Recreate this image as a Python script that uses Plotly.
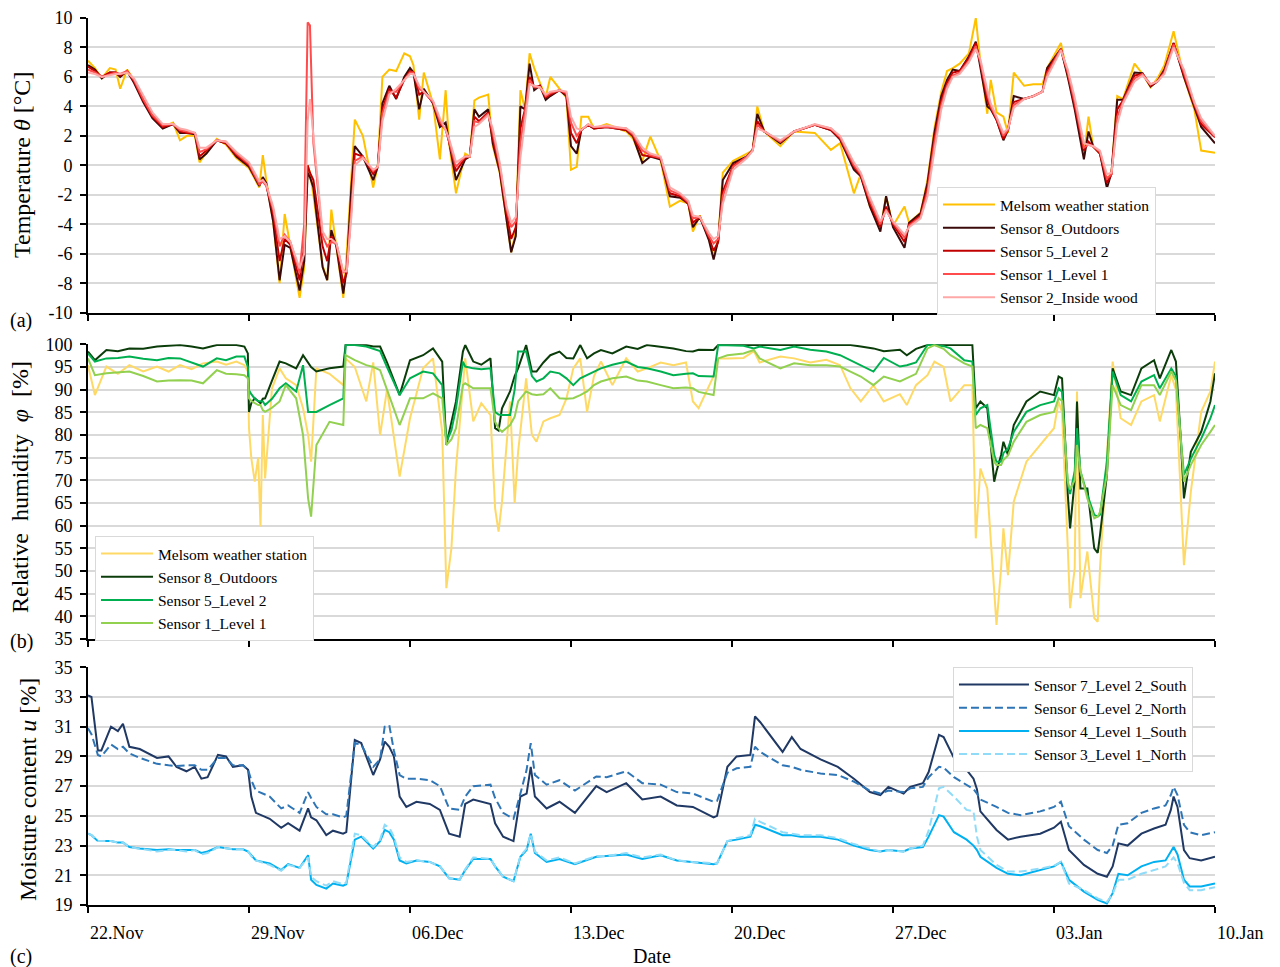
import pandas as pd
import plotly.graph_objects as go

START = pd.Timestamp("2018-11-22")
END = pd.Timestamp("2019-01-10")

# ---------------- (a) Temperature [°C] ----------------
temp_days = [0.0, 0.3, 0.6, 0.95, 1.2, 1.4, 1.7, 2.0, 2.4, 2.8, 3.25, 3.7, 4.0, 4.3, 4.65, 4.85, 5.15, 5.6,
             6.0, 6.45, 7.0, 7.45, 7.6, 7.75, 8.05, 8.33, 8.55, 8.8, 9.2, 9.4, 9.55, 9.65, 9.8, 10.2, 10.4,
             10.58, 10.8, 11.1, 11.25, 11.45, 11.6, 11.95, 12.4, 12.6, 12.8, 13.1, 13.4, 13.75, 14.0, 14.15,
             14.4, 14.6, 15.0, 15.3, 15.55, 15.7, 16.0, 16.4, 16.6, 16.8, 17.0, 17.4, 17.6, 17.9, 18.2, 18.4,
             18.6, 18.8, 19.0, 19.2, 19.4, 19.65, 19.9, 20.1, 20.5, 20.8, 21.0, 21.25, 21.45, 21.75, 22.0,
             22.55, 23.4, 23.7, 24.1, 24.45, 24.9, 25.3, 25.75, 26.1, 26.3, 26.6, 27.0, 27.2, 27.4, 27.6,
             28.05, 28.65, 28.9, 29.1, 29.4, 30.1, 30.7, 31.6, 32.3, 32.7, 33.3, 33.6, 34.0, 34.45, 34.7,
             35.0, 35.5, 35.7, 36.2, 36.5, 36.8, 37.1, 37.35, 37.6, 37.9, 38.3, 38.6, 38.8, 39.1, 39.25,
             39.5, 39.8, 40.0, 40.25, 40.7, 41.1, 41.5, 41.7, 42.3, 42.6, 42.9, 43.3, 43.5, 43.7, 44.0,
             44.3, 44.5, 44.75, 45.0, 45.5, 45.85, 46.2, 46.5, 46.8, 47.2, 47.65, 48.1, 48.4, 49.0]
temp_melsom = [7.1, 6.6, 5.9, 6.6, 6.5, 5.2, 6.5, 5.8, 4.4, 3.3, 2.6, 2.9, 1.7, 2.0, 2.0, 0.2, 0.9, 1.8,
               1.4, 0.5, -0.2, -1.5, 0.7, -1.0, -3.8, -8.0, -3.3, -5.6, -9.0, -7.0, 0.0, -0.5, -2.0, -6.8, -7.8,
               -3.0, -5.5, -9.0, -6.0, -0.7, 3.1, 2.0, -1.5, 0.0, 6.0, 6.5, 6.4, 7.6, 7.4, 6.8,
               3.1, 6.3, 4.2, 0.4, 5.1, 1.5, -1.9, 0.8, 0.6, 4.4, 4.6, 4.8, 1.3, -0.5, -3.6, -5.9,
               -4.5, 5.1, 3.8, 7.6, 6.6, 5.6, 4.6, 6.0, 5.2, 4.6, -0.3, -0.1, 3.3, 3.3, 2.5,
               2.8, 2.3, 1.8, 0.3, 1.95, 0.3, -2.8, -2.4, -2.6, -4.5, -3.4, -5.0, -6.2, -5.0, -0.5,
               0.3, 0.8, 1.0, 4.0, 2.3, 1.3, 2.3, 2.2, 1.05, 1.5, -1.9, -0.6, -2.8, -4.3, -2.1,
               -4.1, -2.8, -3.9, -3.2, -1.0, 2.5, 5.0, 6.4, 6.6, 6.9, 7.6, 10.0, 7.0, 3.5, 5.8,
               3.6, 3.3, 2.2, 6.3, 5.4, 5.5, 5.5, 6.6, 8.3, 6.0, 4.4, 0.6, 3.3, 1.3, 0.8,
               -1.0, -0.5, 4.7, 4.5, 6.9, 6.2, 5.3, 5.9, 6.8, 9.1, 6.0, 3.8, 1.0, 0.85]
temp_s8 = [6.8, 6.5, 5.9, 6.3, 6.3, 6.0, 6.4, 5.6, 4.3, 3.2, 2.5, 2.8, 2.2, 2.2, 2.1, 0.4, 0.8, 1.7,
           1.5, 0.6, -0.1, -1.4, -0.8, -1.2, -3.8, -7.8, -5.4, -5.6, -8.5, -6.5, -0.5, -0.8, -1.5, -6.9, -7.8,
           -4.4, -5.5, -8.7, -7.0, -1.5, 1.3, 0.6, -1.0, -0.1, 4.2, 5.4, 4.5, 6.0, 6.6, 6.3,
           3.8, 5.2, 4.2, 2.6, 2.9, 1.5, -1.0, 0.4, 0.6, 3.8, 3.3, 3.8, 1.5, -0.4, -3.6, -5.9,
           -4.8, 4.0, 3.8, 6.9, 5.1, 5.4, 4.45, 4.7, 5.1, 4.7, 1.3, 0.8, 2.4, 2.75, 2.5,
           2.6, 2.4, 1.95, 0.15, 0.6, 0.4, -2.1, -2.2, -2.6, -4.2, -3.5, -5.1, -6.4, -5.1, -1.0,
           0.15, 0.6, 1.05, 3.5, 2.3, 1.5, 2.3, 2.75, 2.4, 1.75, -0.3, -0.75, -2.8, -4.5, -2.1,
           -4.2, -5.6, -3.9, -3.25, -1.2, 2.2, 4.7, 5.8, 6.5, 6.4, 7.4, 8.4, 6.7, 4.0, 3.8,
           3.1, 1.7, 2.4, 4.7, 4.5, 4.7, 5.0, 6.6, 7.9, 6.0, 3.8, 0.4, 2.3, 1.3, 0.8,
           -1.55, -0.5, 4.45, 4.45, 6.3, 6.25, 5.35, 5.7, 6.5, 8.3, 6.0, 4.0, 2.6, 1.5]
temp_s5 = [6.7, 6.4, 6.0, 6.3, 6.3, 6.1, 6.4, 5.7, 4.4, 3.3, 2.6, 2.8, 2.3, 2.2, 2.2, 0.6, 1.0, 1.7,
           1.5, 0.7, 0.0, -1.3, -1.0, -1.3, -3.3, -6.5, -5.0, -5.4, -7.8, -5.5, 0.0, -0.5, -1.0, -5.5, -6.5,
           -4.8, -5.4, -8.0, -7.3, -2.5, 0.8, 0.6, -0.6, -0.1, 3.8, 5.2, 4.6, 5.8, 6.4, 6.3,
           4.8, 5.0, 4.3, 2.8, 2.5, 1.6, -0.4, 0.5, 0.6, 3.3, 3.0, 3.6, 1.8, -0.2, -3.3, -5.0,
           -4.2, 2.5, 3.8, 6.0, 5.3, 5.4, 4.6, 4.8, 5.1, 4.8, 2.2, 1.5, 2.4, 2.75, 2.5,
           2.6, 2.4, 2.0, 0.7, 0.6, 0.5, -1.9, -2.1, -2.6, -3.9, -3.5, -4.9, -5.8, -5.2, -1.8,
           0.0, 0.6, 1.05, 3.0, 2.3, 1.6, 2.3, 2.75, 2.4, 1.8, -0.1, -0.7, -2.6, -4.2, -2.8,
           -4.0, -5.2, -4.0, -3.4, -1.5, 1.8, 4.4, 5.6, 6.3, 6.4, 7.3, 8.3, 6.9, 4.4, 3.9,
           3.1, 1.8, 2.4, 4.3, 4.5, 4.7, 5.0, 6.4, 7.9, 6.2, 4.0, 1.0, 1.6, 1.3, 0.8,
           -1.2, -0.6, 3.8, 4.4, 6.1, 6.2, 5.4, 5.7, 6.4, 8.3, 6.1, 4.1, 2.8, 1.9]
temp_s1 = [6.5, 6.3, 6.0, 6.2, 6.3, 6.2, 6.4, 5.8, 4.5, 3.4, 2.7, 2.8, 2.4, 2.3, 2.2, 0.9, 1.1, 1.7,
           1.6, 0.8, 0.1, -1.3, -1.1, -1.4, -3.0, -5.5, -4.7, -5.2, -7.3, -4.0, 9.7, 9.5, 1.5, -4.8, -5.5,
           -5.2, -5.3, -7.3, -7.0, -3.0, 0.3, 0.6, -0.4, -0.1, 3.5, 5.0, 5.0, 5.8, 6.3, 6.3,
           5.2, 5.0, 4.3, 3.0, 2.4, 1.6, -0.1, 0.6, 0.6, 3.0, 2.9, 3.5, 2.2, 0.0, -3.0, -4.2,
           -3.8, 1.5, 3.6, 5.8, 5.3, 5.3, 4.7, 4.9, 5.1, 4.9, 2.9, 2.0, 2.4, 2.75, 2.6,
           2.6, 2.5, 2.1, 1.0, 0.7, 0.5, -1.7, -2.0, -2.5, -3.6, -3.5, -4.8, -5.3, -5.0, -2.1,
           -0.1, 0.6, 1.0, 2.75, 2.3, 1.6, 2.3, 2.75, 2.5, 1.9, 0.0, -0.6, -2.4, -4.0, -3.0,
           -3.9, -4.9, -4.1, -3.5, -1.8, 1.5, 4.1, 5.4, 6.1, 6.3, 7.1, 8.1, 7.0, 4.8, 4.0,
           3.2, 2.0, 2.4, 4.1, 4.5, 4.7, 5.0, 6.2, 7.9, 6.3, 4.3, 1.2, 1.4, 1.3, 0.9,
           -0.9, -0.6, 3.3, 4.3, 5.9, 6.2, 5.5, 5.7, 6.3, 8.2, 6.3, 4.2, 3.0, 1.95]
temp_s2 = [6.3, 6.2, 6.0, 6.1, 6.2, 6.2, 6.3, 5.9, 4.7, 3.6, 2.8, 2.8, 2.5, 2.4, 2.2, 1.2, 1.2, 1.7,
           1.6, 0.9, 0.2, -1.1, -1.0, -1.3, -2.8, -5.0, -4.8, -5.2, -7.0, -6.0, 3.0, 4.5, 2.0, -4.5, -5.0,
           -5.0, -5.3, -7.2, -7.2, -3.5, 0.0, 0.5, -0.3, -0.1, 3.0, 4.8, 5.2, 5.8, 6.2, 6.2,
           5.4, 5.0, 4.4, 3.2, 2.4, 1.8, 0.2, 0.6, 0.6, 2.6, 2.8, 3.4, 2.5, 0.2, -2.8, -3.9,
           -3.5, 0.5, 3.2, 5.5, 5.4, 5.3, 4.8, 5.0, 5.1, 5.0, 3.3, 2.5, 2.4, 2.8, 2.6,
           2.7, 2.5, 2.2, 1.2, 0.8, 0.6, -1.5, -1.9, -2.4, -3.4, -3.5, -4.6, -5.0, -4.8, -2.6,
           -0.3, 0.5, 1.0, 2.5, 2.3, 1.7, 2.3, 2.8, 2.5, 2.0, 0.2, -0.5, -2.2, -3.8, -3.1,
           -3.8, -4.7, -4.2, -3.6, -2.1, 1.0, 3.8, 5.2, 6.0, 6.2, 7.0, 7.9, 7.2, 5.1, 4.2,
           3.3, 2.2, 2.5, 3.9, 4.5, 4.7, 5.0, 6.0, 7.8, 6.5, 4.6, 1.5, 1.4, 1.3, 1.0,
           -0.6, -0.5, 2.8, 4.2, 5.7, 6.1, 5.5, 5.7, 6.2, 8.0, 6.5, 4.3, 3.2, 2.0]

# ---------------- (b) Relative humidity [%] ----------------
hum_days = [0.0, 0.3, 0.8, 1.3, 1.8, 2.4, 3.0, 3.5, 4.0, 4.5, 5.0, 5.6, 6.0, 6.45, 6.8, 6.95, 7.0, 7.1,
            7.25, 7.4, 7.5, 7.6, 7.7, 8.0, 8.33, 8.6, 9.05, 9.35, 9.57, 9.7, 9.93, 10.5, 11.1, 11.2, 11.6,
            12.1, 12.4, 12.7, 13.0, 13.55, 14.0, 14.57, 15.0, 15.4, 15.58, 15.8, 16.0, 16.3, 16.4, 16.75,
            17.1, 17.5, 17.7, 17.85, 18.0, 18.35, 18.55, 18.7, 19.05, 19.3, 19.5, 19.8, 20.1, 20.5, 20.8,
            21.1, 21.4, 21.7, 22.0, 22.3, 22.8, 23.4, 23.9, 24.3, 24.9, 25.45, 26.0, 26.3, 26.55, 27.2,
            27.4, 27.8, 28.5, 28.95, 29.2, 30.1, 30.7, 31.4, 32.1, 32.7, 33.15, 33.6, 34.15, 34.6, 35.3,
            35.6, 36.0, 36.5, 36.8, 37.2, 37.5, 38.1, 38.45, 38.6, 38.8, 39.1, 39.4, 39.5, 39.7, 39.8,
            40.0, 40.25, 40.8, 41.4, 42.0, 42.2, 42.35, 42.6, 42.7, 42.9, 43.0, 43.15, 43.45, 43.75, 43.9,
            44.0, 44.3, 44.55, 44.9, 45.35, 45.8, 46.35, 46.6, 47.1, 47.3, 47.5, 47.65, 47.95, 48.4, 48.8,
            49.0]
hum_melsom = [95.4, 88.8, 95.1, 93.5, 95.4, 94.0, 95.1, 94.0, 95.4, 94.5, 95.8, 96.2, 95.5, 96.2, 95.4, 94.0, 81.5, 74.9,
              69.7, 75.0, 59.8, 84.4, 70.4, 90.3, 94.7, 92.5, 91.0, 85.9, 80.0, 74.1, 94.7, 93.5, 91.0, 96.9, 95.0,
              87.4, 96.0, 80.0, 90.0, 70.8, 83.7, 94.7, 96.9, 80.7, 46.2, 55.0, 72.6, 91.0, 96.9, 83.0,
              87.0, 84.4, 63.8, 58.7, 65.3, 87.4, 65.0, 76.3, 92.5, 80.0, 78.5, 83.0, 83.7, 84.4, 88.0,
              94.7, 96.9, 85.1, 93.0, 96.2, 91.0, 96.9, 94.0, 94.7, 96.0, 95.4, 96.0, 87.4, 85.9, 93.0,
              96.9, 96.9, 97.0, 98.5, 96.0, 97.3, 96.9, 96.0, 96.6, 95.4, 90.3, 87.4, 91.0, 87.4, 89.0,
              86.6, 91.0, 93.2, 96.2, 95.0, 87.4, 91.0, 91.0, 57.2, 72.6, 68.2, 45.4, 38.1, 50.6, 59.4,
              49.1, 65.3, 74.1, 77.8, 81.5, 87.4, 85.0, 55.0, 41.8, 50.6, 89.6, 44.0, 54.3, 39.6, 38.8,
              50.6, 76.3, 96.2, 83.7, 82.2, 87.4, 88.8, 83.0, 93.2, 90.0, 69.0, 51.3, 67.5, 85.1, 89.6,
              96.2]
hum_s8 = [98.4, 96.5, 98.75, 98.5, 99.1, 99.0, 99.5, 99.6, 99.85, 99.5, 99.1, 99.85, 99.85, 99.85, 99.5, 98.0, 85.1, 87.0,
          88.1, 87.4, 87.0, 88.0, 88.1, 92.0, 96.2, 95.8, 94.7, 97.6, 96.0, 95.0, 94.0, 94.7, 95.1, 99.85, 99.85,
          99.85, 99.5, 99.5, 96.0, 88.8, 96.5, 97.6, 99.1, 96.2, 77.8, 82.9, 87.4, 98.4, 99.85, 96.2,
          95.5, 96.9, 81.5, 81.0, 85.9, 89.6, 93.0, 94.7, 99.85, 94.0, 94.0, 96.0, 97.6, 98.4, 97.0,
          96.9, 99.85, 96.9, 98.0, 98.75, 98.0, 99.5, 99.0, 99.85, 99.5, 99.1, 98.5, 98.4, 98.8, 98.75,
          99.85, 99.85, 99.85, 99.85, 99.85, 99.85, 99.85, 99.85, 99.85, 99.85, 99.85, 99.5, 99.1, 98.5, 98.8,
          97.6, 99.0, 99.85, 99.85, 99.85, 99.85, 99.85, 99.85, 85.9, 87.4, 85.9, 69.7, 72.0, 75.6, 78.5,
          75.6, 82.2, 87.4, 89.6, 88.8, 92.9, 92.5, 66.8, 59.4, 70.0, 87.4, 68.2, 68.2, 55.0, 54.0,
          57.9, 71.2, 94.7, 89.6, 88.8, 94.7, 96.5, 92.5, 98.75, 96.2, 80.0, 66.0, 76.3, 80.7, 87.4,
          93.6]
hum_s5 = [98.0, 96.2, 96.9, 97.0, 97.3, 96.8, 96.5, 97.0, 96.9, 96.0, 95.1, 96.9, 96.5, 97.3, 97.3, 95.0, 89.9, 89.0,
          88.0, 87.5, 87.4, 87.4, 86.6, 88.0, 90.3, 91.4, 89.6, 95.4, 85.1, 85.1, 85.1, 86.6, 88.1, 99.85, 99.85,
          99.5, 99.0, 98.5, 95.0, 88.8, 92.5, 94.0, 93.6, 91.0, 78.5, 81.0, 85.9, 96.2, 95.1, 94.7,
          94.5, 94.7, 85.1, 84.5, 84.4, 84.4, 90.0, 98.4, 98.4, 93.0, 91.8, 92.5, 94.0, 93.6, 92.5,
          91.0, 92.5, 93.2, 94.0, 94.7, 95.5, 96.2, 95.0, 94.7, 94.0, 93.2, 93.5, 93.6, 93.0, 92.9,
          99.85, 99.85, 99.7, 99.1, 99.5, 98.75, 99.5, 98.8, 98.4, 97.6, 96.5, 95.4, 94.0, 97.0, 95.1,
          95.4, 96.0, 99.85, 99.85, 99.6, 99.1, 96.5, 96.2, 84.4, 85.9, 86.6, 75.6, 74.1, 74.1, 76.0,
          77.0, 80.7, 85.1, 86.6, 87.4, 90.3, 89.5, 69.0, 67.0, 72.0, 81.5, 72.0, 66.8, 62.4, 62.0,
          62.4, 74.1, 94.0, 88.8, 87.4, 91.8, 93.2, 90.3, 94.7, 93.0, 80.0, 71.2, 74.8, 79.2, 83.7,
          86.6]
hum_s1 = [96.9, 93.2, 93.6, 93.8, 94.0, 93.0, 91.8, 92.0, 92.1, 92.0, 91.4, 94.3, 93.5, 93.4, 93.2, 92.5, 88.1, 87.5,
          87.0, 86.6, 86.6, 85.5, 85.1, 86.0, 87.4, 91.0, 88.1, 80.0, 66.0, 62.0, 77.8, 82.9, 82.2, 97.6, 96.5,
          95.4, 95.0, 94.3, 90.0, 82.2, 88.1, 88.1, 89.2, 88.1, 77.8, 79.0, 81.5, 91.0, 91.4, 90.3,
          90.3, 90.3, 82.9, 81.5, 80.7, 82.2, 84.0, 87.4, 89.6, 89.0, 88.8, 89.0, 90.3, 88.1, 88.0,
          88.1, 88.8, 89.6, 91.0, 91.8, 92.5, 92.9, 92.0, 91.8, 91.0, 90.3, 90.5, 90.3, 89.5, 88.8,
          96.9, 97.6, 98.0, 98.75, 96.9, 94.7, 95.8, 95.4, 95.4, 95.1, 94.0, 92.9, 91.0, 92.9, 91.8,
          92.5, 93.5, 99.1, 99.85, 99.0, 97.6, 95.8, 95.1, 81.5, 82.2, 81.5, 74.1, 73.4, 73.4, 74.5,
          75.5, 78.5, 82.9, 84.4, 85.1, 88.1, 87.5, 69.7, 68.0, 70.0, 77.8, 72.0, 66.0, 61.6, 62.0,
          63.0, 71.2, 91.0, 86.6, 85.5, 91.0, 91.0, 88.8, 94.0, 92.0, 80.0, 69.7, 73.4, 77.8, 80.7,
          82.2]

# ---------------- (c) Moisture content [%] ----------------
mc_days = [0.0, 0.15, 0.43, 0.58, 1.0, 1.3, 1.52, 1.8, 2.25, 3.0, 3.5, 3.85, 4.28, 4.64, 4.93, 5.2, 5.65, 6.0,
           6.3, 6.74, 6.96, 7.1, 7.3, 7.9, 8.4, 8.7, 9.2, 9.57, 9.7, 9.93, 10.36, 10.65, 11.09, 11.23, 11.6,
           11.88, 12.4, 12.7, 12.9, 13.1, 13.3, 13.55, 13.84, 14.28, 14.86, 15.3, 15.7, 16.16, 16.4, 16.75,
           17.5, 17.7, 18.05, 18.5, 18.8, 19.07, 19.25, 19.43, 19.94, 20.5, 21.17, 22.1, 22.55, 23.4, 24.1,
           24.9, 25.6, 26.3, 27.2, 27.35, 27.8, 28.2, 28.8, 29.0, 29.23, 30.2, 30.6, 30.98, 31.85, 32.6,
           33.3, 34.0, 34.45, 34.8, 35.46, 35.75, 36.3, 36.55, 37.0, 37.2, 37.65, 38.2, 38.5, 38.65, 38.8,
           39.5, 40.0, 40.55, 41.4, 42.0, 42.3, 42.65, 43.3, 43.9, 44.3, 44.55, 44.8, 45.2, 45.8, 46.35,
           46.85, 47.08, 47.2, 47.37, 47.65, 47.9, 48.4, 49.0]
mc_s7 = [33.1, 33.0, 29.4, 29.4, 31.0, 30.7, 31.2, 29.65, 29.5, 28.9, 29.0, 28.3, 28.0, 28.3, 27.5, 27.6, 29.1, 29.0,
         28.3, 28.4, 28.1, 26.3, 25.2, 24.8, 24.2, 24.5, 24.0, 25.5, 24.9, 24.7, 23.7, 24.0, 23.8, 23.9, 30.1,
         29.9, 27.75, 28.8, 30.0, 29.65, 29.0, 26.3, 25.6, 25.95, 25.8, 25.4, 23.8, 23.6, 25.8, 26.1,
         25.8, 24.5, 23.6, 23.3, 26.3, 26.5, 28.3, 26.3, 25.5, 25.95, 25.2, 27.0, 26.6, 27.2, 26.1,
         26.3, 25.7, 25.6, 24.9, 25.0, 28.3, 29.0, 29.1, 31.7, 31.3, 29.3, 30.3, 29.5, 28.8, 28.3,
         27.5, 26.6, 26.4, 26.95, 26.5, 26.95, 27.2, 27.95, 30.45, 30.3, 28.9, 28.1, 27.5, 26.8, 25.3,
         24.05, 23.4, 23.6, 23.8, 24.2, 24.6, 22.7, 21.7, 21.1, 20.9, 21.6, 23.15, 23.0, 23.8, 24.15,
         24.4, 25.4, 26.3, 25.6, 22.7, 22.15, 22.0, 22.25]
mc_s6 = [30.9, 30.5, 29.1, 29.0, 29.8, 29.5, 29.65, 29.2, 28.9, 28.5, 28.4, 28.35, 28.4, 28.4, 28.1, 28.1, 28.9, 28.9,
         28.4, 28.4, 28.1, 27.4, 26.7, 26.3, 25.5, 25.7, 25.2, 26.6, 26.2, 25.6, 25.1, 25.1, 24.9, 25.0, 29.9,
         29.8, 28.3, 28.8, 31.0, 31.1, 29.4, 27.75, 27.5, 27.5, 27.4, 27.0, 25.5, 25.4, 26.3, 27.0,
         27.1, 26.2, 25.2, 24.8, 26.5, 28.1, 29.9, 27.75, 27.1, 27.4, 26.7, 27.65, 27.6, 28.0, 27.2,
         27.1, 26.6, 26.5, 25.95, 26.0, 27.9, 28.2, 28.3, 29.65, 29.3, 28.4, 28.3, 28.1, 27.85, 27.75,
         27.3, 26.7, 26.5, 26.7, 26.6, 26.85, 26.95, 27.6, 28.3, 28.25, 27.6, 27.1, 26.8, 26.5, 26.1,
         25.6, 25.2, 25.05, 25.3, 25.6, 25.95, 24.3, 23.4, 22.7, 22.5, 23.0, 24.4, 24.5, 25.2, 25.5,
         25.7, 26.4, 26.95, 26.4, 24.4, 23.9, 23.7, 23.9]
mc_s4 = [23.8, 23.7, 23.3, 23.3, 23.3, 23.2, 23.2, 22.9, 22.8, 22.7, 22.75, 22.7, 22.7, 22.7, 22.5, 22.6, 22.9, 22.8,
         22.75, 22.75, 22.6, 22.35, 22.0, 21.8, 21.35, 21.75, 21.5, 22.35, 20.7, 20.35, 20.1, 20.45, 20.3, 20.4, 23.4,
         23.6, 22.8, 23.3, 24.05, 23.9, 23.4, 22.0, 21.8, 22.0, 21.9, 21.6, 20.8, 20.7, 21.35, 22.1,
         22.1, 21.6, 20.9, 20.6, 22.25, 22.7, 23.8, 22.5, 21.9, 22.1, 21.75, 22.25, 22.3, 22.4, 22.1,
         22.35, 22.0, 21.9, 21.75, 21.8, 23.3, 23.4, 23.6, 24.4, 24.3, 23.7, 23.7, 23.6, 23.6, 23.4,
         23.0, 22.7, 22.6, 22.7, 22.6, 22.8, 22.9, 23.6, 25.05, 24.95, 23.9, 23.4, 23.0, 22.7, 22.25,
         21.5, 21.1, 21.0, 21.35, 21.6, 21.9, 20.7, 19.9, 19.35, 19.1, 19.8, 21.1, 21.0, 21.6, 21.9,
         22.0, 22.6, 22.9, 22.4, 20.7, 20.25, 20.25, 20.45]
mc_s3 = [23.8, 23.7, 23.3, 23.3, 23.3, 23.2, 23.2, 22.9, 22.8, 22.6, 22.7, 22.7, 22.6, 22.7, 22.4, 22.5, 22.9, 22.8,
         22.75, 22.75, 22.6, 22.3, 22.0, 21.7, 21.3, 21.7, 21.5, 22.2, 20.9, 20.6, 20.3, 20.6, 20.4, 20.5, 23.8,
         23.7, 22.9, 23.4, 24.4, 24.2, 23.6, 22.2, 21.9, 22.0, 21.9, 21.6, 20.8, 20.7, 21.4, 22.2,
         22.1, 21.6, 20.9, 20.6, 22.3, 22.8, 23.8, 22.6, 22.0, 22.2, 21.8, 22.3, 22.3, 22.5, 22.2,
         22.4, 22.0, 21.9, 21.8, 21.8, 23.3, 23.5, 23.7, 24.8, 24.6, 23.9, 23.8, 23.7, 23.7, 23.5,
         23.1, 22.8, 22.6, 22.7, 22.6, 22.8, 23.0, 24.0, 26.85, 26.95, 26.3, 25.4, 25.3, 23.6, 22.7,
         21.7, 21.25, 21.25, 21.45, 21.65, 21.9, 20.45, 20.0, 19.45, 19.2, 19.75, 20.7, 20.7, 21.1, 21.35,
         21.6, 22.0, 22.2, 21.8, 20.5, 20.0, 20.0, 20.2]

temp_names = ["Melsom weather station", "Sensor 8_Outdoors", "Sensor 5_Level 2", "Sensor 1_Level 1", "Sensor 2_Inside wood"]
hum_names = ["Melsom weather station", "Sensor 8_Outdoors", "Sensor 5_Level 2", "Sensor 1_Level 1"]
mc_names = ["Sensor 7_Level 2_South", "Sensor 6_Level 2_North", "Sensor 4_Level 1_South", "Sensor 3_Level 1_North"]

temp_ticks = list(range(-10, 11, 2))
hum_ticks = list(range(35, 101, 5))
mc_ticks = list(range(19, 36, 2))


def to_dates(days):
    return [START + pd.Timedelta(days=d) for d in days]


FONT = "Liberation Serif"
fig = go.Figure()

temp_colors = ["#FFC000", "#3A0A0A", "#C00000", "#FF4B4B", "#FFA8A8"]
for name, vals, col in zip(temp_names, [temp_melsom, temp_s8, temp_s5, temp_s1, temp_s2], temp_colors):
    fig.add_trace(go.Scatter(x=to_dates(temp_days), y=vals, name=name, mode="lines",
                             line=dict(color=col, width=2), xaxis="x", yaxis="y", legend="legend"))

hum_colors = ["#FFD966", "#0B3D0B", "#00B050", "#92D050"]
for name, vals, col in zip(hum_names, [hum_melsom, hum_s8, hum_s5, hum_s1], hum_colors):
    fig.add_trace(go.Scatter(x=to_dates(hum_days), y=vals, name=name, mode="lines",
                             line=dict(color=col, width=2), xaxis="x2", yaxis="y2", legend="legend2"))

mc_styles = [("#1F3864", "solid"), ("#2E75B6", "8px,4px"), ("#00B0F0", "solid"), ("#8FDBF8", "8px,4px")]
for name, vals, (col, dash) in zip(mc_names, [mc_s7, mc_s6, mc_s4, mc_s3], mc_styles):
    fig.add_trace(go.Scatter(x=to_dates(mc_days), y=vals, name=name, mode="lines",
                             line=dict(color=col, width=2, dash=dash), xaxis="x3", yaxis="y3", legend="legend3"))

xcommon = dict(range=[START, END], tick0=START, dtick=7 * 86400000, showgrid=False, zeroline=False,
               showline=True, linecolor="black", linewidth=2, ticks="outside", ticklen=6,
               tickwidth=2, tickcolor="black")
ycommon = dict(showgrid=True, gridcolor="#D9D9D9", gridwidth=1.5, zeroline=False, showline=True,
               linecolor="black", linewidth=2, ticks="outside", ticklen=6, tickwidth=1.5,
               tickcolor="black", tickfont=dict(size=18), ticklabelstandoff=4)

legend_common = dict(bgcolor="white", bordercolor="#D9D9D9", borderwidth=1, font=dict(size=15.5, family=FONT),
                     xanchor="left", yanchor="top", tracegroupgap=0)

fig.update_layout(
    width=1280, height=967,
    margin=dict(l=88, r=65, t=18, b=62, autoexpand=False),
    paper_bgcolor="white", plot_bgcolor="white",
    font=dict(family=FONT, size=18, color="black"),
    xaxis=dict(**xcommon, domain=[0, 1], anchor="y", showticklabels=False),
    xaxis2=dict(**xcommon, domain=[0, 1], anchor="y2", showticklabels=False, matches="x"),
    xaxis3=dict(**xcommon, domain=[0, 1], anchor="y3", showticklabels=True, matches="x",
                tickformat="%d.%b", ticklabelposition="outside right", tickfont=dict(size=18),
                ticklabelstandoff=10),
    yaxis=dict(**ycommon, domain=[0.6678, 1.0], range=[-10, 10], tickvals=temp_ticks,
               ticktext=[str(v) for v in temp_ticks]),
    yaxis2=dict(**ycommon, domain=[0.2999, 0.6321], range=[35, 100], tickvals=hum_ticks,
                ticktext=[str(v) for v in hum_ticks]),
    yaxis3=dict(**ycommon, domain=[0.0, 0.268], range=[19, 35], tickvals=mc_ticks,
                ticktext=[str(v) for v in mc_ticks]),
    legend=dict(**legend_common, x=0.7533, y=0.8095, itemwidth=52),
    legend2=dict(**legend_common, x=0.0062, y=0.4160, itemwidth=52),
    legend3=dict(**legend_common, x=0.7675, y=0.2683, itemwidth=70),
    showlegend=True,
)

NB = "\u00a0"
annos = [
    dict(text="Temperature <i>θ</i> [°C]", x=-0.0586, y=0.8343),
    dict(text=f"Relative{NB} humidity{NB} <i>φ</i>{NB} [%]", x=-0.0603, y=0.4713),
    dict(text="Moisture content <i>u</i> [%]", x=-0.0532, y=0.1297),
]
for a in annos:
    fig.add_annotation(text=a["text"], x=a["x"], y=a["y"], xref="paper", yref="paper",
                       textangle=-90, showarrow=False, xanchor="center", yanchor="middle",
                       font=dict(size=24, family=FONT, color="black"))

for lab, yy in [("(a)", 0.6584), ("(b)", 0.2976), ("(c)", -0.0586)]:
    fig.add_annotation(text=lab, x=-0.071, y=yy, xref="paper", yref="paper", showarrow=False,
                       xanchor="left", yanchor="middle", font=dict(size=20, family=FONT, color="black"))

fig.add_annotation(text="Date", x=0.5, y=-0.0575, xref="paper", yref="paper", showarrow=False,
                   xanchor="center", yanchor="middle", font=dict(size=20, family=FONT, color="black"))

fig.write_html("out.html")
